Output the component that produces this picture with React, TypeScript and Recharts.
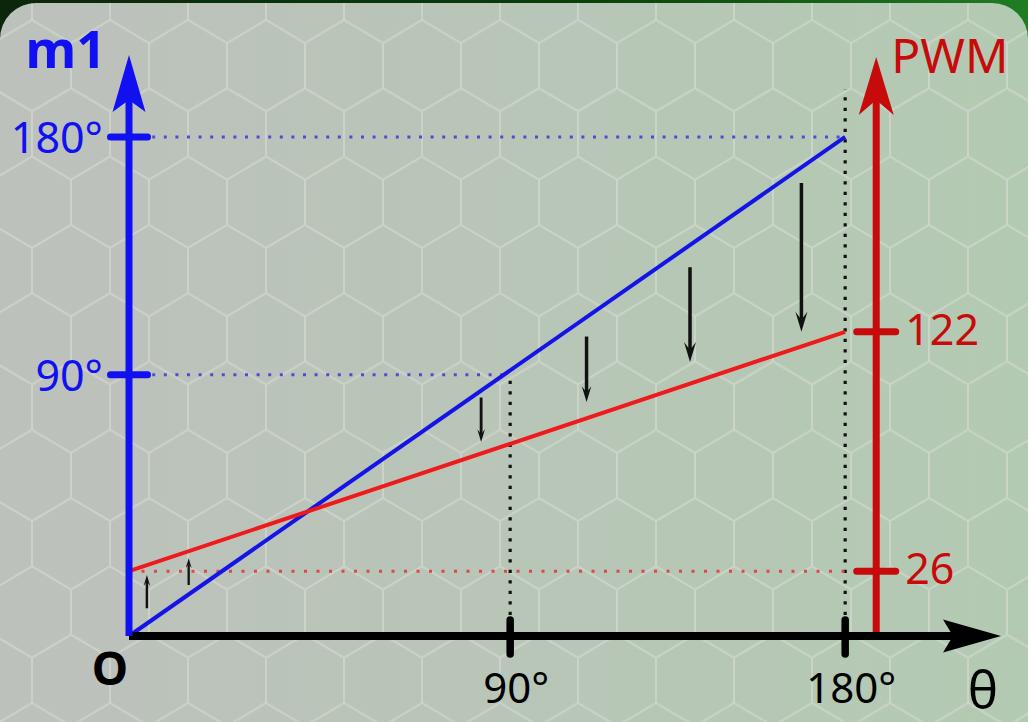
import React from 'react';
import { LineChart, Line, XAxis, YAxis, ReferenceLine, ReferenceDot } from 'recharts';

// the two straight lines, given by their end points
const thetaPoints = [0, 180];
const m1Values = [0, 180];
const pwmValues = [26, 122];

// the sketch is not to scale: its "90°" marks sit a bit past the middle
const thetaTickPos = [95.8, 180];
const thetaTickLabels = ['90°', '180°'];
const degTickPos = [94.2, 180];
const degTickLabels = ['90°', '180°'];
const pwmTicks = [26, 122];

// how far up the black dotted guides go (deg units)
const thetaGuideTops = [94.2, 197];

// small black arrows from the blue line towards the red one (deg units)
const arrowThetas = [4.5, 15, 88.5, 115, 141, 169];
const arrowFrom = [10, 18.4, 86, 108, 133, 163.4];
const arrowTo = [22, 28, 70, 84.4, 98.8, 109.7];

const THETA_MAX = 207.1;
const DEG_MAX = 193.3;
const PWM_MAX = 215;
const PWM_AXIS_AT = 187.8;

const FONT = '"Noto Sans", "Open Sans", sans-serif';
const BLUE = '#1010f2';
const BLUE_LINE = '#1414e6';
const RED_AXIS = '#c70a0a';
const RED_LINE = '#ef1a1a';

const lineData = thetaPoints.map((t, i) => ({ theta: t, m1: m1Values[i], pwm: pwmValues[i] }));

const labelOf = (pos: number[], labels: string[], v: number) => labels[pos.indexOf(v)] ?? String(v);

const Backdrop = () => (
  <svg width={1028} height={722} style={{ position: 'absolute', left: 0, top: 0 }}>
    <defs>
      <linearGradient id="frame" x1="0" x2="1" y1="0" y2="0">
        <stop offset="0" stopColor="#0c260c" />
        <stop offset="0.55" stopColor="#0a3d0a" />
        <stop offset="1" stopColor="#1f7d22" />
      </linearGradient>
      <linearGradient id="panel" x1="0" x2="1" y1="0" y2="0">
        <stop offset="0" stopColor="#bdc1bc" />
        <stop offset="1" stopColor="#b3cab2" />
      </linearGradient>
      <pattern id="hex" patternUnits="userSpaceOnUse" width={78} height={136.6} x={32} y={-25.3}>
        <path
          d="M0 0 V45.3 L39 68.3 L78 45.3 V0 M39 68.3 V113.6 L0 136.6 M39 113.6 L78 136.6"
          fill="none"
          stroke="#d3d9d0"
          strokeWidth={2}
        />
      </pattern>
    </defs>
    <rect width={1028} height={722} fill="url(#frame)" />
    <path d="M0 39 A36 36 0 0 1 36 3 H992 A36 36 0 0 1 1028 39 V722 H0 Z" fill="url(#panel)" />
    <path d="M0 39 A36 36 0 0 1 36 3 H992 A36 36 0 0 1 1028 39 V722 H0 Z" fill="url(#hex)" opacity={0.7} />
  </svg>
);

const DegTick = ({ x, y, payload }: any) => (
  <g>
    <line x1={x - 18.5} x2={x + 18.5} y1={y} y2={y} stroke={BLUE} strokeWidth={7} strokeLinecap="round" />
    <text x={x - 26} y={y + 16} textAnchor="end" fontSize={43} fontFamily={FONT} fill={BLUE}>
      {labelOf(degTickPos, degTickLabels, payload.value)}
    </text>
  </g>
);

const ThetaTick = ({ x, y, payload }: any) => (
  <g>
    <line x1={x} x2={x} y1={y - 16} y2={y + 18} stroke="#000" strokeWidth={7.5} strokeLinecap="round" />
    <text x={x + 6} y={y + 67} textAnchor="middle" fontSize={42} fontFamily={FONT} fill="#000">
      {labelOf(thetaTickPos, thetaTickLabels, payload.value)}
    </text>
  </g>
);

const PwmTick = (value: number) => (props: any) => (
  <g>
    <line x1={props.cx - 19.5} x2={props.cx + 19.5} y1={props.cy} y2={props.cy} stroke={RED_AXIS} strokeWidth={7} strokeLinecap="round" />
    <text x={props.cx + 29} y={props.cy + 13} fontSize={43} fontFamily={FONT} fill={RED_AXIS}>
      {value}
    </text>
  </g>
);

// notched arrow head, tip at (tx,ty), pointing along (ux,uy)
const head = (tx: number, ty: number, ux: number, uy: number, len: number, half: number, notch: number, fill: string) => {
  const bx = tx - ux * len;
  const by = ty - uy * len;
  const nx = tx - ux * notch;
  const ny = ty - uy * notch;
  return (
    <polygon
      points={`${tx},${ty} ${bx - uy * half},${by + ux * half} ${nx},${ny} ${bx + uy * half},${by - ux * half}`}
      fill={fill}
    />
  );
};

const BlueAxisHead = (props: any) => (
  <g>
    {head(props.cx, props.cy - 45, 0, -1, 57, 16.5, 45, BLUE)}
    <text x={props.cx - 23} y={props.cy - 32} textAnchor="end" fontSize={52} fontWeight="bold" fontFamily={FONT} fill={BLUE}>
      m1
    </text>
  </g>
);

const ThetaAxisHead = (props: any) => (
  <g>
    {head(props.cx + 48, props.cy, 1, 0, 58, 16.5, 48, '#000')}
    <text x={props.cx + 30} y={props.cy + 72} textAnchor="middle" fontSize={51} fontFamily={FONT} fill="#000">
      θ
    </text>
  </g>
);

const Origin = (props: any) => (
  <text x={props.cx - 19} y={props.cy + 49} textAnchor="middle" fontSize={46} fontWeight="bold" fontFamily={FONT} fill="#000">
    O
  </text>
);

const RedAxis = (props: any) => {
  const { x1, y1, x2, y2 } = props;
  return (
    <g>
      <line x1={x1} y1={y1 + 4} x2={x2} y2={y2} stroke={RED_AXIS} strokeWidth={7} />
      {head(x2, y2 - 43, 0, -1, 58, 17.5, 43, RED_AXIS)}
      <text x={x2 + 15} y={y2 - 27} fontSize={48} fontFamily={FONT} fill={RED_AXIS}>
        PWM
      </text>
    </g>
  );
};

const DeltaArrow = (props: any) => {
  const { x1, y1, x2, y2 } = props;
  const len = Math.hypot(x2 - x1, y2 - y1);
  const ux = (x2 - x1) / len;
  const uy = (y2 - y1) / len;
  const h = Math.min(20, 6 + len * 0.15);
  const w = Math.min(3.5, 1.5 + len * 0.03);
  return (
    <g>
      <line x1={x1} y1={y1} x2={x2 - ux * h * 0.6} y2={y2 - uy * h * 0.6} stroke="#111" strokeWidth={w} />
      {head(x2, y2, ux, uy, h, h * 0.3, h * 0.6, '#111')}
    </g>
  );
};

export default function App() {
  return (
    <div style={{ position: 'absolute', left: 0, top: 0, width: 1028, height: 722 }}>
      <Backdrop />
      <div style={{ position: 'absolute', left: 0, top: 0 }}>
        <LineChart width={1028} height={722} data={lineData} margin={{ top: 100, right: 75, bottom: 0, left: 0 }}>
          <XAxis
            type="number"
            dataKey="theta"
            domain={[0, THETA_MAX]}
            ticks={thetaTickPos}
            interval={0}
            height={86}
            tickSize={0}
            tickMargin={0}
            tickLine={false}
            axisLine={{ stroke: '#000', strokeWidth: 8 }}
            tick={<ThetaTick />}
          />
          <YAxis
            yAxisId="deg"
            type="number"
            domain={[0, DEG_MAX]}
            ticks={degTickPos}
            interval={0}
            width={129}
            tickSize={0}
            tickMargin={0}
            tickLine={false}
            axisLine={{ stroke: BLUE, strokeWidth: 7 }}
            tick={<DegTick />}
          />
          <YAxis yAxisId="pwm" orientation="right" type="number" domain={[0, PWM_MAX]} hide />

          {degTickPos.map((v, i) => (
            <ReferenceLine
              key={'hd' + v}
              yAxisId="deg"
              segment={[{ x: 0, y: v }, { x: thetaTickPos[i], y: v }]}
              stroke="#5548d8"
              strokeWidth={3}
              strokeDasharray="3 8.6"
            />
          ))}
          {thetaTickPos.map((t, i) => (
            <ReferenceLine
              key={'vd' + t}
              yAxisId="deg"
              segment={[{ x: t, y: 0 }, { x: t, y: thetaGuideTops[i] }]}
              stroke="#111"
              strokeWidth={3.2}
              strokeDasharray="3.2 7.3"
              ifOverflow="visible"
            />
          ))}
          <ReferenceLine
            yAxisId="pwm"
            segment={[{ x: 0, y: pwmValues[0] }, { x: 180, y: pwmValues[0] }]}
            stroke="#dc4848"
            strokeWidth={3}
            strokeDasharray="3 9.5"
          />

          <Line yAxisId="deg" dataKey="m1" stroke={BLUE_LINE} strokeWidth={4} dot={false} isAnimationActive={false} />
          <Line yAxisId="pwm" dataKey="pwm" stroke={RED_LINE} strokeWidth={4} dot={false} isAnimationActive={false} />

          {arrowThetas.map((t, i) => (
            <ReferenceLine
              key={'ar' + i}
              yAxisId="deg"
              segment={[{ x: t, y: arrowFrom[i] }, { x: t, y: arrowTo[i] }]}
              shape={DeltaArrow}
            />
          ))}

          <ReferenceLine
            yAxisId="pwm"
            segment={[{ x: PWM_AXIS_AT, y: 0 }, { x: PWM_AXIS_AT, y: PWM_MAX }]}
            shape={RedAxis}
          />
          {pwmTicks.map((v) => (
            <ReferenceDot key={'pt' + v} yAxisId="pwm" x={PWM_AXIS_AT} y={v} r={0} shape={PwmTick(v)} />
          ))}

          <ReferenceDot yAxisId="deg" x={0} y={DEG_MAX} r={0} shape={BlueAxisHead} />
          <ReferenceDot yAxisId="deg" x={THETA_MAX} y={0} r={0} shape={ThetaAxisHead} />
          <ReferenceDot yAxisId="deg" x={0} y={0} r={0} shape={Origin} />
        </LineChart>
      </div>
    </div>
  );
}
